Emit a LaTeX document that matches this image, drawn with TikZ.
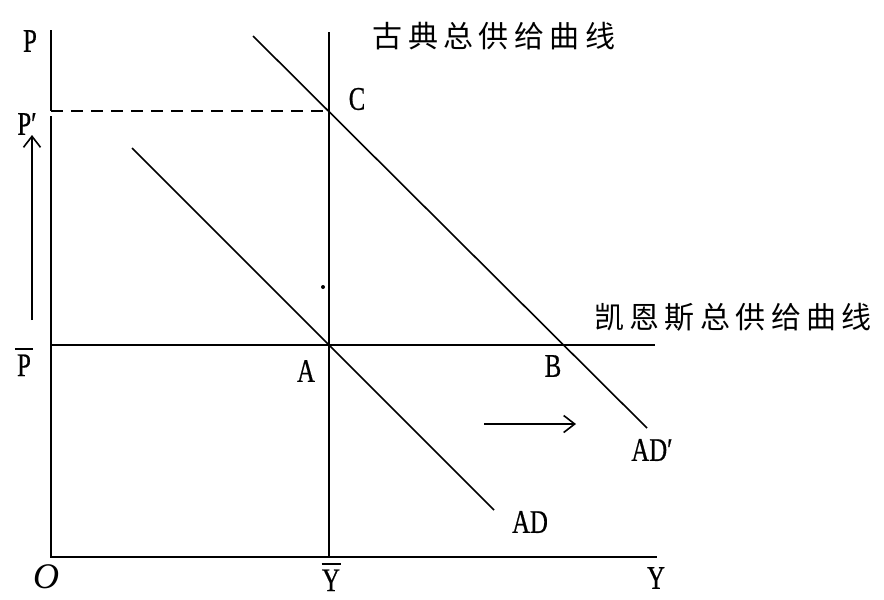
\documentclass[tikz,border=0pt]{standalone}
\usepackage{fontspec}
\setmainfont{Liberation Serif}
\newfontfamily\labfont[FakeStretch=0.75,FakeBold=0.6]{Liberation Serif}
\newfontfamily\cjkfont[LetterSpace=18]{Noto Sans CJK SC}
\usetikzlibrary{arrows.meta}
\newcommand\barlet[2]{\setbox0\hbox{#1}\vbox{\offinterlineskip\hbox to \wd0{\hss\rule{#2}{1.6pt}\hss}\vskip 5pt\box0}}
\begin{document}
\begin{tikzpicture}[x=1pt,y=-1pt,
  lab/.style={font=\labfont\fontsize{33}{33}\selectfont, inner sep=0pt},
  cjklab/.style={font=\cjkfont\fontsize{30}{30}\selectfont, inner sep=0pt},
  axisline/.style={line width=2.6pt},
  curve/.style={line width=1.6pt},
  shift arrow/.style={line width=1.6pt, -{Straight Barb[length=11pt,width=17pt,line width=1.6pt]}}]
\useasboundingbox (0,0) rectangle (884,600);
% coordinates
\coordinate (O) at (51,557);
\coordinate (Ptop) at (51,30);
\coordinate (Pp) at (51,111);
\coordinate (Ppb) at (51,116);
\coordinate (Yend) at (657,557);
\coordinate (Ybtop) at (329,32);
\coordinate (Ybbot) at (329,557);
\coordinate (C) at (329,111);
\coordinate (Pl) at (51,345);
\coordinate (Pr) at (655,345);
\coordinate (ADa) at (253,36);
\coordinate (ADb) at (647,428);
\coordinate (ADc) at (132,148);
\coordinate (ADd) at (494,510);
\coordinate (UA1) at (32,320);
\coordinate (UA2) at (32,135);
\coordinate (RA1) at (484,424);
\coordinate (RA2) at (576,424);
% axes
\draw[axisline] (Ptop) -- (Pp);
\draw[axisline] (Ppb) -- (O) -- (Yend);
\draw[line width=2.4pt] (Ybtop) -- (Ybbot);
\draw[line width=2.6pt, dash pattern=on 12pt off 8pt] (Pp) -- (C);
\draw[line width=2pt] (Pl) -- (Pr);
% AD curves
\draw[curve] (ADa) -- (ADb);
\draw[curve] (ADc) -- (ADd);
% shift arrows
\draw[shift arrow] (UA1) -- (UA2);
\draw[shift arrow] (RA1) -- (RA2);
% dot
\fill (323,287) circle (2pt);
% labels
\node[lab] (lP) at (30,41) {P};
\node[lab] (lPp) at (27,124) {P′};
\node[lab] (lPbar) at (24,362) {\barlet{P}{18pt}};
\node[font=\itshape\fontsize{36}{36}\selectfont, inner sep=0pt] (lO) at (46,577) {O};
\node[lab] (lYbar) at (331,577) {\barlet{Y}{19pt}};
\node[lab] (lY) at (656,578) {Y};
\node[lab] (lA) at (306,371) {A};
\node[lab] (lB) at (553,366) {B};
\node[lab] (lC) at (357,99) {C};
\node[lab] (lADp) at (652,450) {AD′};
\node[lab] (lAD) at (530,522) {AD};
\node[cjklab] (lcl) at (494,36) {古典总供给曲线};
\node[cjklab] (lke) at (733,317) {凯恩斯总供给曲线};
\end{tikzpicture}
\end{document}
